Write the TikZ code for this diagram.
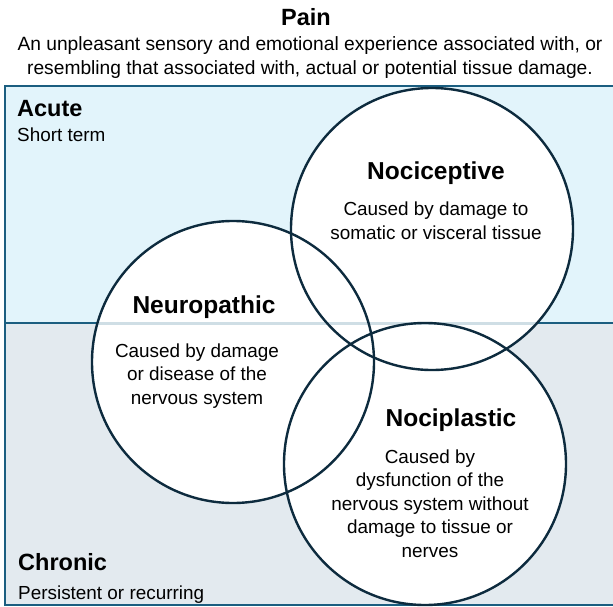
\documentclass[tikz,border=0pt]{standalone}
\usepackage{fontspec}
\setmainfont{Liberation Sans}

\definecolor{boxline}{HTML}{1B5E80}
\definecolor{acutefill}{HTML}{E2F4FB}
\definecolor{chronicfill}{HTML}{E3EAEF}
\definecolor{ringcol}{HTML}{0D2B3E}
\definecolor{splitlight}{HTML}{CFDEE5}

\tikzset{
  band/.style={draw=boxline, line width=2.5pt},
  disc/.style={fill=white},
  ring/.style={draw=ringcol, line width=2.4pt},
  splitline/.style={draw=splitlight, line width=3pt},
  heading/.style={font=\bfseries\fontsize{23.5}{28}\selectfont, inner sep=0pt},
  ctitle/.style={font=\bfseries\fontsize{24.5}{29}\selectfont, inner sep=0pt},
  body/.style={font=\fontsize{18.9}{23.5}\selectfont, align=center, inner sep=0pt},
  note/.style={font=\fontsize{18.9}{24}\selectfont, inner sep=0pt},
}

\begin{document}
\begin{tikzpicture}[x=1pt, y=-1pt]
\useasboundingbox (0,0) rectangle (613,607);

% acute and chronic bands
\path[band, fill=acutefill] (5,86) rectangle (620,323);
\path[band, fill=chronicfill] (5,323) rectangle (620,605);

% circle centres
\coordinate (cept)  at (432,229);
\coordinate (neuro) at (233,362);
\coordinate (plast) at (425,464);

% white discs
\fill[disc] (cept) circle[radius=141pt];
\fill[disc] (neuro) circle[radius=141pt];
\fill[disc] (plast) circle[radius=141pt];

% band split seen through the discs
\begin{scope}
  \clip (cept) circle[radius=141pt] (neuro) circle[radius=141pt] (plast) circle[radius=141pt];
  \path[splitline] (0,323) -- (613,323);
\end{scope}

% circle outlines
\draw[ring] (cept) circle[radius=141pt];
\draw[ring] (neuro) circle[radius=141pt];
\draw[ring] (plast) circle[radius=141pt];

% heading (multi-line nodes sit on their last baseline)
\node[heading, anchor=base] (pain) at (306,26) {Pain};
\node[body, anchor=base, font=\fontsize{19.2}{24}\selectfont] (def) at (310,75)
  {An unpleasant sensory and emotional experience associated with, or\\
   resembling that associated with, actual or potential tissue damage.};

% band labels
\node[heading, anchor=base west] (acute) at (17,117) {Acute};
\node[note, anchor=base west] (acutenote) at (17,142) {Short term};
\node[heading, anchor=base west] (chronic) at (18,570) {Chronic};
\node[note, anchor=base west] (chronicnote) at (18,599) {Persistent or recurring};

% circle labels
\node[ctitle, anchor=base] (ceptname) at (436,179) {Nociceptive};
\node[body, anchor=base] (cepttext) at (436,239)
  {Caused by damage to\\somatic or visceral tissue};

\node[ctitle, anchor=base] (neuroname) at (204,313) {Neuropathic};
\node[body, anchor=base] (neurotext) at (197,404)
  {Caused by damage\\or disease of the\\nervous system};

\node[ctitle, anchor=base] (plastname) at (451,426) {Nociplastic};
\node[body, anchor=base] (plasttext) at (430,557)
  {Caused by\\dysfunction of the\\nervous system without\\damage to tissue or\\nerves};
\end{tikzpicture}
\end{document}
